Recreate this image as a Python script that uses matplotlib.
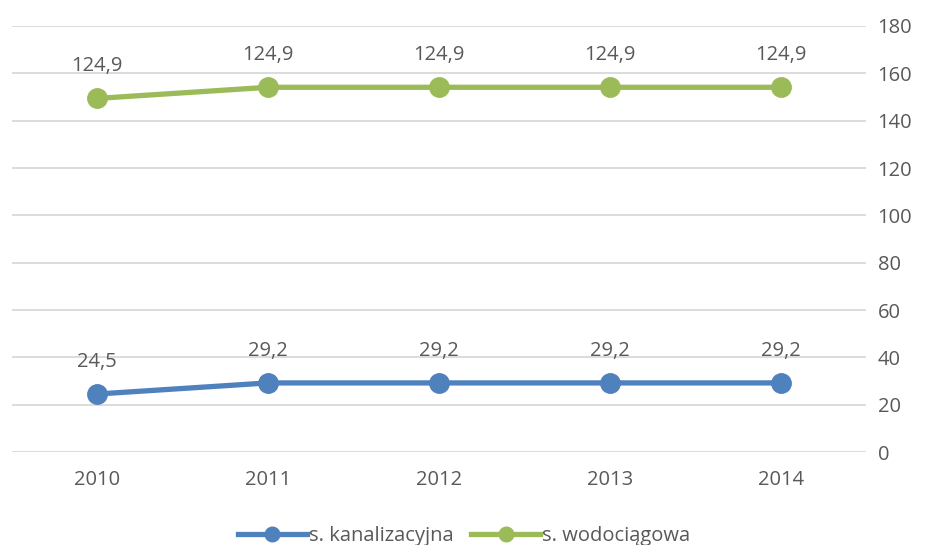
import matplotlib
matplotlib.use("Agg")
import matplotlib.pyplot as plt
import numpy as np

years = ["2010", "2011", "2012", "2013", "2014"]
kanal = [24.5, 29.2, 29.2, 29.2, 29.2]
wodoc = [124.9, 124.9, 124.9, 124.9, 124.9]
series_names = ["s. kanalizacyjna", "s. wodociągowa"]
yticks = [0, 20, 40, 60, 80, 100, 120, 140, 160, 180]

plt.rcParams['font.family'] = ['Open Sans', 'DejaVu Sans']
txt = '#595959'

fig = plt.figure(figsize=(9.28, 5.45), dpi=100)
ax = fig.add_axes([0.0124, 0.1706, 0.9213, 0.7817])

x = np.arange(len(years))
stacked = np.array(kanal) + np.array(wodoc)
blue = '#4f81bd'
green = '#9bbb59'
ax.plot(x, kanal, color=blue, lw=3.8, marker='o', ms=14, label=series_names[0], zorder=3)
ax.plot(x, stacked, color=green, lw=3.8, marker='o', ms=14, label=series_names[1], zorder=3)

for xi, v, lab in zip(x, kanal, kanal):
    ax.annotate(f"{lab}".replace('.', ','), (xi, v), xytext=(0, 16), textcoords='offset points',
                ha='center', va='bottom', fontsize=14.5, color=txt)
for xi, v, lab in zip(x, stacked, wodoc):
    ax.annotate(f"{lab}".replace('.', ','), (xi, v), xytext=(0, 16), textcoords='offset points',
                ha='center', va='bottom', fontsize=14.5, color=txt)

ax.set_xlim(-0.5, len(years) - 0.5)
ax.set_ylim(0, 180)
ax.set_yticks(yticks)
ax.yaxis.tick_right()
ax.set_xticks(x)
ax.set_xticklabels(years)
ax.tick_params(axis='both', length=0, labelsize=14.5, colors=txt)
ax.tick_params(axis='y', pad=8)
ax.tick_params(axis='x', pad=13)
ax.grid(axis='y', color='#d9d9d9', lw=1.3)
ax.set_axisbelow(True)
for s in ax.spines.values():
    s.set_visible(False)

leg = fig.legend(loc='lower center', bbox_to_anchor=(0.5, -0.035), ncol=2, frameon=False,
                 fontsize=14.5, handlelength=3.4, columnspacing=0.9, handletextpad=0.1,
                 markerscale=0.75, labelcolor=txt)

fig.savefig("out.png", dpi=100)
